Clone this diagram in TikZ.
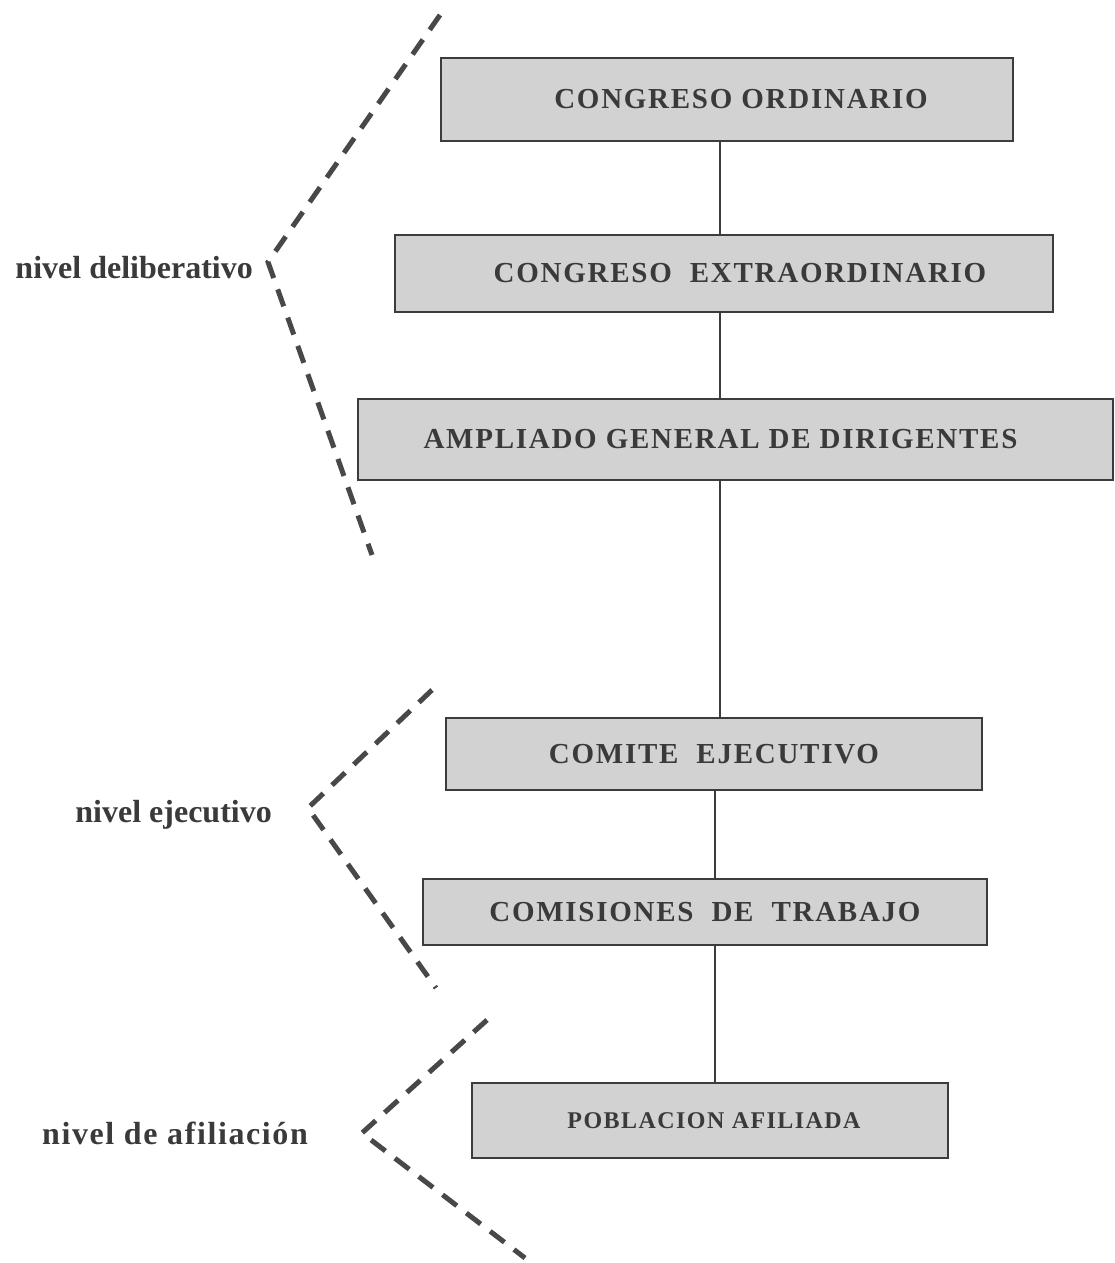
\documentclass[tikz,border=0pt]{standalone}
\usepackage{fontspec}
\setmainfont{Liberation Serif}
\newfontfamily\boxfont[LetterSpace=6]{Liberation Serif}
\newfontfamily\widefont[LetterSpace=5]{Liberation Serif}
\definecolor{boxfill}{RGB}{210,210,210}
\definecolor{boxline}{RGB}{60,60,60}
\definecolor{inkgray}{RGB}{58,58,58}
\definecolor{dashgray}{RGB}{72,72,72}
\begin{document}
\begin{tikzpicture}[x=1pt,y=-1pt,
  orgbox/.style={draw=boxline, line width=2.5pt, fill=boxfill, inner sep=0pt,
    text=inkgray, font=\boxfont\fontsize{29}{32}\selectfont\bfseries},
  link/.style={draw=boxline, line width=1.8pt},
  brace/.style={draw=dashgray, line width=5pt, dash pattern=on 18pt off 12pt},
  lvl/.style={text=inkgray, font=\fontsize{32}{36}\selectfont\bfseries, inner sep=0pt}]
\useasboundingbox (0,0) rectangle (1115,1263);
\fill[white] (0,0) rectangle (1115,1263);

\node[orgbox, minimum width=572pt, minimum height=83pt] (b1) at (727,99.5) {\hspace*{28pt}CONGRESO ORDINARIO};
\node[orgbox, minimum width=658pt, minimum height=77pt] (b2) at (724,273.5) {\hspace*{32pt}CONGRESO\ \ EXTRAORDINARIO};
\node[orgbox, minimum width=755pt, minimum height=81pt] (b3) at (735.5,439.5) {AMPLIADO GENERAL DE DIRIGENTES\hspace*{30pt}};
\node[orgbox, minimum width=536pt, minimum height=72pt] (b4) at (714,754) {COMITE\ \ EJECUTIVO};
\node[orgbox, minimum width=564pt, minimum height=66pt] (b5) at (705,912) {COMISIONES\ \ DE\ \ TRABAJO};
\node[orgbox, minimum width=476pt, minimum height=75pt, font=\boxfont\fontsize{24}{28}\selectfont\bfseries] (b6) at (710,1120.5) {\hspace*{8pt}POBLACION AFILIADA};

\coordinate (spineA) at (720,0);
\coordinate (spineB) at (715,0);
\draw[link] (b1.south -| spineA) -- (b2.north -| spineA);
\draw[link] (b2.south -| spineA) -- (b3.north -| spineA);
\draw[link, line width=2.8pt] (b3.south -| spineA) -- (b4.north -| spineA);
\draw[link] (b4.south -| spineB) -- (b5.north -| spineB);
\draw[link] (b5.south -| spineB) -- (b6.north -| spineB);

% level labels
\node[lvl, anchor=east] (l1) at (253,268) {nivel deliberativo};
\node[lvl, anchor=east] (l2) at (272,815) {nivel ejecutivo};
\node[lvl, anchor=east, font=\widefont\fontsize{32}{36}\selectfont\bfseries] (l3) at (308,1133) {nivel de afiliación};

% dashed brackets
\coordinate (d1t) at (440,15);
\coordinate (d1v) at (268,262);
\coordinate (d1b) at (372,555);
\coordinate (d2t) at (432,690);
\coordinate (d2v) at (308,808);
\coordinate (d2b) at (436,988);
\coordinate (d3t) at (487,1020);
\coordinate (d3v) at (362,1133);
\coordinate (d3b) at (525,1258);
\draw[brace] (d1t) -- (d1v) -- (d1b);
\draw[brace] (d2t) -- (d2v) -- (d2b);
\draw[brace] (d3t) -- (d3v) -- (d3b);
\end{tikzpicture}
\end{document}
